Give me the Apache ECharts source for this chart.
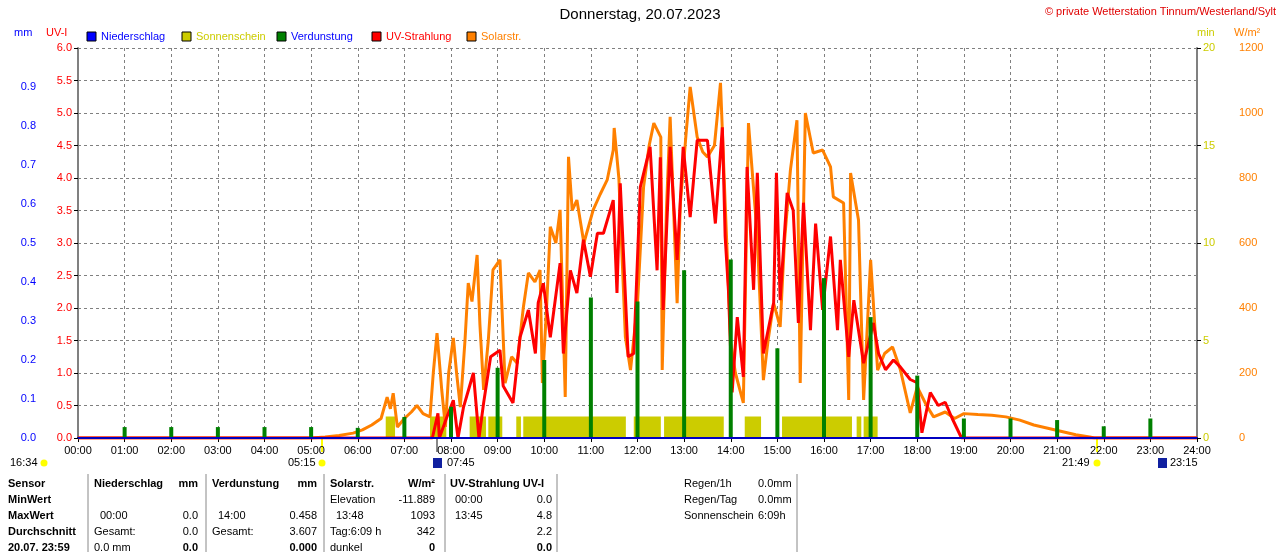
<!DOCTYPE html>
<html><head><meta charset="utf-8">
<script src="https://cdn.jsdelivr.net/npm/echarts@6/dist/echarts.min.js"></script>
<style>html,body{margin:0;padding:0;background:#fff}#c{width:1280px;height:552px}</style>
</head><body><div id="c"></div>
<script>
const solarT=[0,5.0,5.3,5.6,5.9,6.1,6.3,6.5,6.63,6.7,6.76,6.85,7.0,7.15,7.27,7.4,7.55,7.62,7.7,7.8,7.88,7.95,8.05,8.12,8.2,8.3,8.37,8.45,8.56,8.62,8.7,8.8,8.9,9.05,9.16,9.3,9.42,9.55,9.66,9.8,9.91,9.96,10.05,10.13,10.25,10.34,10.45,10.52,10.6,10.7,10.85,11.05,11.2,11.35,11.48,11.5,11.6,11.74,11.85,12.0,12.13,12.25,12.35,12.5,12.53,12.62,12.7,12.85,12.92,13.05,13.13,13.28,13.4,13.5,13.65,13.78,13.88,14.0,14.1,14.27,14.38,14.57,14.7,14.8,14.92,15.06,15.15,15.28,15.42,15.49,15.6,15.77,15.97,16.14,16.2,16.42,16.53,16.57,16.74,16.85,17.0,17.15,17.3,17.47,17.64,17.85,18.0,18.2,18.35,18.6,18.8,19.0,19.3,19.6,19.9,20.2,20.5,20.8,21.1,21.4,21.7,21.8,24];
const solarV=[0,0,3,8,15,25,40,60,126,90,138,34,60,80,100,75,65,200,323,150,34,200,308,200,95,300,477,420,563,350,148,300,517,548,169,250,230,400,508,480,517,169,400,650,600,702,126,865,700,732,600,702,750,794,886,954,800,311,209,415,772,900,969,926,209,700,988,415,723,950,1080,926,880,865,900,1093,723,292,200,108,969,618,178,300,415,342,600,825,978,169,1000,877,886,834,742,723,117,815,671,117,548,209,260,280,209,77,157,100,65,80,60,75,72,70,65,55,40,30,20,10,3,0,0];
const uvT=[0,7.6,7.72,7.75,7.9,8.05,8.15,8.27,8.4,8.48,8.6,8.7,8.85,9.05,9.12,9.33,9.48,9.66,9.81,9.87,9.98,10.13,10.34,10.41,10.56,10.7,10.84,10.99,11.14,11.27,11.48,11.56,11.63,11.8,11.92,12.06,12.27,12.42,12.49,12.55,12.7,12.85,12.98,13.13,13.28,13.5,13.67,13.82,13.88,13.95,14.03,14.14,14.27,14.35,14.49,14.57,14.7,14.92,14.98,15.06,15.21,15.34,15.45,15.56,15.71,15.82,15.97,16.14,16.29,16.35,16.53,16.64,16.85,17.06,17.17,17.32,17.49,17.64,17.85,18.0,18.1,18.28,18.45,18.6,18.75,18.85,18.95,24];
const uvV=[0,0,0.38,0,0.3,0.58,0,0.48,0.8,1.0,0,0.54,1.25,1.35,0.8,0.54,1.55,1.97,1.3,2.08,2.38,1.55,2.69,1.3,2.58,2.23,3.05,2.48,3.15,3.15,3.66,2.23,3.92,1.25,1.3,3.86,4.48,2.58,4.32,1.97,4.48,2.74,4.48,3.4,4.58,4.58,3.3,4.78,3.1,2.28,0.7,1.86,0.94,4.17,2.28,4.08,1.3,2.08,4.08,2.12,3.77,3.5,1.77,3.62,1.66,3.3,1.97,3.1,1.66,2.74,1.25,2.12,1.15,1.77,1.3,1.05,1.2,1.09,0.9,0.85,0.08,0.7,0.5,0.55,0.3,0.15,0,0];
const evapT=[1,2,3,4,5,6,7,8,9,10,11,12,13,14,15,16,17,18,19,20,21,22,23];
const evapV=[0.028,0.028,0.028,0.028,0.028,0.026,0.054,0.08,0.18,0.2,0.36,0.35,0.43,0.458,0.23,0.41,0.31,0.16,0.05,0.05,0.046,0.03,0.05];
const sunIntervals=[[6.6,6.8],[7.55,7.9],[8.4,8.75],[8.8,9.1],[9.4,9.5],[9.55,11.75],[11.92,12.5],[12.57,13.85],[14.3,14.65],[15.1,16.6],[16.7,16.8],[16.85,17.15]];
const sunMin=1.1;
const hourLabels=Array.from({length:25},(_,i)=>String(i).padStart(2,'0')+':00');

const sunData=[];
sunIntervals.forEach(([a,b])=>{sunData.push([a,0],[a,sunMin],[b,sunMin],[b,0]);});
const F='Liberation Sans';
const FS=11;
const zip=(t,v)=>t.map((x,i)=>[x,v[i]]);
const txt=(x,y,s,o={})=>({type:'text',x,y,style:{text:s,font:(o.b?'bold ':'')+FS+'px '+F,fill:o.c||'#000',textAlign:o.a||'left',textVerticalAlign:'middle'}});
const g=[];
g.push({type:'text',x:640,y:15,style:{text:'Donnerstag, 20.07.2023',font:'15px '+F,fill:'#000',textAlign:'center',textVerticalAlign:'middle'}});
g.push({type:'text',x:1276,y:12,style:{text:'© private Wetterstation Tinnum/Westerland/Sylt',font:'11px '+F,fill:'#e00000',textAlign:'right',textVerticalAlign:'middle'}});
g.push(txt(14,33,'mm',{c:'#0000ff'}),txt(46,33,'UV-I',{c:'#ff0000'}),txt(1197,33,'min',{c:'#cccc00'}),txt(1234,33,'W/m²',{c:'#ff8000'}));
// legend
const leg=[['Niederschlag','#0000ff','#0000ff'],['Sonnenschein','#cccc00','#cccc00'],['Verdunstung','#008000','#0000ff'],['UV-Strahlung','#ff0000','#ff0000'],['Solarstr.','#ff8000','#ff8000']];
leg.forEach(([n,c,tc],i)=>{const x=[87,182,277,372,467][i];
 g.push({type:'rect',shape:{x:x,y:32,width:9,height:9},style:{fill:c,stroke:'#000',lineWidth:1}});
 g.push(txt(x+14,37,n,{c:tc}));});
// sun markers
g.push(txt(10,463,'16:34'),txt(288,463,'05:15'),txt(447,463,'07:45'),txt(1062,463,'21:49'),txt(1170,463,'23:15'));
[[44,463],[322,463],[1097,463]].forEach(([x,y])=>g.push({type:'circle',shape:{cx:x,cy:y,r:3.5},style:{fill:'#ffff00'}}));
[[437,463],[1162,463]].forEach(([x,y])=>g.push({type:'rect',shape:{x:x-4,y:y-5,width:9,height:10},style:{fill:'#1020a0'}}));
[322,1097].forEach(x=>g.push({type:'line',shape:{x1:x,y1:438,x2:x,y2:452},style:{stroke:'#ffff00',lineWidth:2}}));
g.push({type:'line',shape:{x1:437,y1:438,x2:437,y2:452},style:{stroke:'#888',lineWidth:2}});
// table
const rows=[484,500,516,532,548];
['Sensor','MinWert','MaxWert','Durchschnitt','20.07. 23:59'].forEach((s,i)=>g.push(txt(8,rows[i],s,{b:true})));
[88,206,324,445,557,797].forEach(x=>g.push({type:'line',shape:{x1:x,y1:474,x2:x,y2:552},style:{stroke:'#888',lineWidth:1}}));
g.push(txt(94,484,'Niederschlag',{b:true}),txt(198,484,'mm',{b:true,a:'right'}));
g.push(txt(212,484,'Verdunstung',{b:true}),txt(317,484,'mm',{b:true,a:'right'}));
g.push(txt(330,484,'Solarstr.',{b:true}),txt(435,484,'W/m²',{b:true,a:'right'}));
g.push(txt(450,484,'UV-Strahlung UV-I',{b:true}));
g.push(txt(330,500,'Elevation'),txt(435,500,'-11.889',{a:'right'}),txt(455,500,'00:00'),txt(552,500,'0.0',{a:'right'}));
g.push(txt(100,516,'00:00'),txt(198,516,'0.0',{a:'right'}),txt(218,516,'14:00'),txt(317,516,'0.458',{a:'right'}),txt(336,516,'13:48'),txt(435,516,'1093',{a:'right'}),txt(455,516,'13:45'),txt(552,516,'4.8',{a:'right'}));
g.push(txt(94,532,'Gesamt:'),txt(198,532,'0.0',{a:'right'}),txt(212,532,'Gesamt:'),txt(317,532,'3.607',{a:'right'}),txt(330,532,'Tag:6:09 h'),txt(435,532,'342',{a:'right'}),txt(552,532,'2.2',{a:'right'}));
g.push(txt(94,548,'0.0 mm'),txt(198,548,'0.0',{a:'right',b:true}),txt(317,548,'0.000',{a:'right',b:true}),txt(330,548,'dunkel'),txt(435,548,'0',{a:'right',b:true}),txt(552,548,'0.0',{a:'right',b:true}));
g.push(txt(684,484,'Regen/1h'),txt(758,484,'0.0mm'),txt(684,500,'Regen/Tag'),txt(758,500,'0.0mm'),txt(684,516,'Sonnenschein'),txt(758,516,'6:09h'));

const split={show:true,lineStyle:{color:'#808080',type:[3,3],width:1}};
const lab=c=>({color:c,fontFamily:F,fontSize:FS});
const chart=echarts.init(document.getElementById('c'));
chart.setOption({
 animation:false,
 grid:{left:78,right:83,top:48,bottom:114},
 xAxis:{type:'value',min:0,max:24,interval:1,axisLine:{onZero:false,lineStyle:{color:'#000080',width:2}},axisTick:{show:true,length:4,lineStyle:{color:'#000'}},
  axisLabel:Object.assign(lab('#000'),{margin:7,formatter:v=>hourLabels[v]}),splitLine:split},
 yAxis:[
  {type:'value',min:0,max:1,interval:0.1,position:'left',offset:34,axisLine:{show:false},axisTick:{show:false},
   axisLabel:Object.assign(lab('#0000ff'),{formatter:v=>v>=0.999?'':v.toFixed(1)}),splitLine:{show:false}},
  {type:'value',min:0,max:6,interval:0.5,position:'left',axisLine:{show:true,lineStyle:{color:'#808080',width:2}},axisTick:{show:true,length:4,lineStyle:{color:'#000'}},
   axisLabel:Object.assign(lab('#ff0000'),{margin:6,formatter:v=>v.toFixed(1)}),splitLine:split},
  {type:'value',min:0,max:20,interval:5,position:'right',axisLine:{show:true,lineStyle:{color:'#808080',width:2}},axisTick:{show:true,length:4,lineStyle:{color:'#000'}},
   axisLabel:Object.assign(lab('#cccc00'),{margin:6}),splitLine:{show:false}},
  {type:'value',min:0,max:1200,interval:200,position:'right',offset:34,axisLine:{show:false},axisTick:{show:false},
   axisLabel:Object.assign(lab('#ff8000'),{formatter:v=>String(v)}),splitLine:{show:false}}
 ],
 series:[
  {name:'Niederschlag',type:'line',yAxisIndex:0,data:[[0,0],[24,0]],symbol:'none',lineStyle:{color:'#0000c0',width:2},z:5},
  {name:'Sonnenschein',type:'line',yAxisIndex:2,data:sunData,symbol:'none',lineStyle:{width:0},areaStyle:{color:'#cccc00',opacity:1},z:1},
  {name:'Solarstr.',type:'line',yAxisIndex:3,data:zip(solarT,solarV),symbol:'none',lineStyle:{color:'#ff8000',width:3},z:2},
  {name:'UV-Strahlung',type:'line',yAxisIndex:1,data:zip(uvT,uvV),symbol:'none',lineStyle:{color:'#ff0000',width:3},z:3},
  {name:'Verdunstung',type:'bar',yAxisIndex:0,data:zip(evapT,evapV),barWidth:4,itemStyle:{color:'#008000'},z:4}
 ],
 graphic:g
});
</script></body></html>
